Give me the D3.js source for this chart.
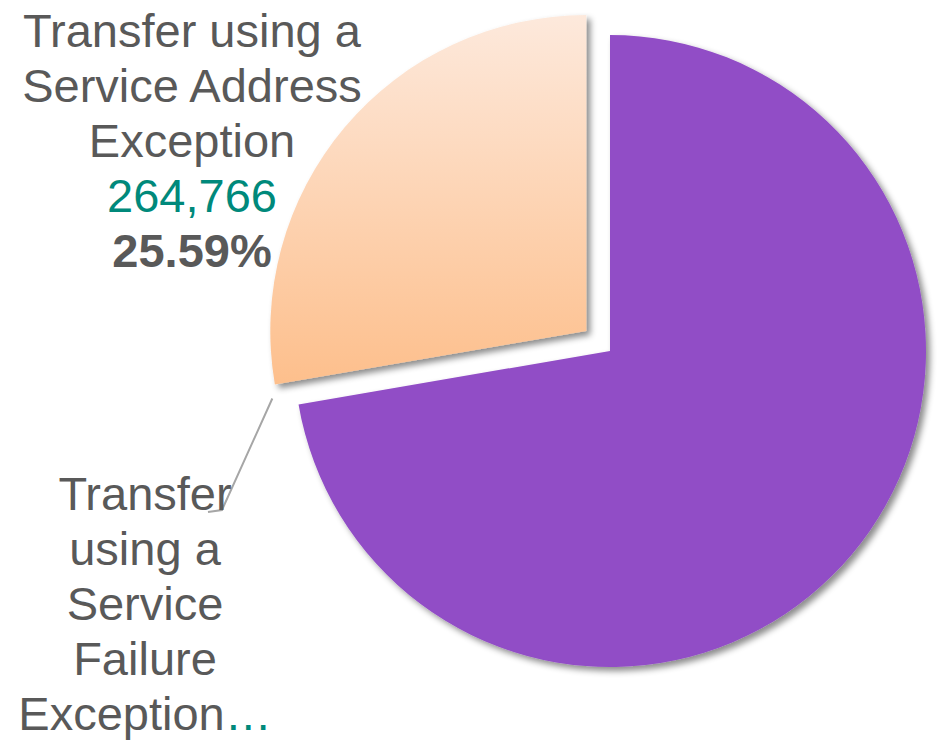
<!DOCTYPE html>
<html>
<head>
<meta charset="utf-8">
<title>Transfer exceptions pie</title>
<script src="https://d3js.org/d3.v7.min.js"></script>
<style>
    body { margin: 0; background: #fff; }
    svg { display: block; font-family: "Liberation Sans", Arial, sans-serif; }
</style>
</head>
<body>
<script>
    // slices in drawing order, clockwise from 12 o'clock
    let categories = [
        "Transfer using a Service Failure Exception",
        "Transfer using a Service Address Exception"
    ];
    let values = [691000, 264766];
    let valueLabels = ["", "264,766"];
    let pctLabels = ["", "25.59%"];
    let sliceColors = ["#914dc6", null]; // null -> orange gradient

    // label lines as they wrap in the picture
    let labelLines = [
        ["Transfer", "using a", "Service", "Failure", "Exception"],
        ["Transfer using a", "Service Address", "Exception"]
    ];

    const W = 938, H = 744;
    const cx = 610, cy = 351, R = 316, explode = 31;

    let svg = d3.select("body").append("svg").attr("width", W).attr("height", H);

    let defs = svg.append("defs");
    let grad = defs.append("linearGradient").attr("id", "orangeGrad")
        .attr("x1", 0).attr("y1", 0).attr("x2", 0).attr("y2", 1);
    grad.append("stop").attr("offset", "0%").attr("stop-color", "#fde9dc");
    grad.append("stop").attr("offset", "100%").attr("stop-color", "#fdbf8c");

    let shadow = defs.append("filter").attr("id", "shadow")
        .attr("x", "-10%").attr("y", "-10%").attr("width", "130%").attr("height", "130%");
    shadow.append("feDropShadow").attr("dx", 4).attr("dy", 4).attr("stdDeviation", 3)
        .attr("flood-color", "#000").attr("flood-opacity", 0.45);

    let pie = d3.pie().sort(null).value(d => d)(values);
    let arc = d3.arc().innerRadius(0).outerRadius(R);

    let g = svg.append("g").attr("transform", `translate(${cx},${cy})`);

    g.selectAll("path")
        .data(pie)
        .enter().append("path")
        .attr("d", arc)
        .attr("fill", (d, i) => sliceColors[i] || "url(#orangeGrad)")
        .attr("filter", "url(#shadow)")
        .attr("transform", (d, i) => {
            if (i !== 1) return null;
            let a = (d.startAngle + d.endAngle) / 2;
            return `translate(${Math.sin(a) * explode},${-Math.cos(a) * explode})`;
        });

    const fs = 47, lh = 55;
    const textCol = "#595959", teal = "#00897b";

    // label for the exploded orange slice (upper left)
    let t1 = svg.append("text").attr("text-anchor", "middle")
        .attr("font-size", fs).attr("fill", textCol);
    labelLines[1].forEach((s, i) => {
        t1.append("tspan").attr("x", 192).attr("y", 47 + i * lh).text(s);
    });
    t1.append("tspan").attr("x", 192).attr("y", 47 + 3 * lh).attr("fill", teal).text(valueLabels[1]);
    t1.append("tspan").attr("x", 192).attr("y", 47 + 4 * lh).attr("font-weight", "bold").text(pctLabels[1]);

    // leader line to the purple slice label
    let purple = pie[0];
    let ea = purple.endAngle + 0.03;
    let p0 = [cx + Math.sin(ea) * (R + 25), cy - Math.cos(ea) * (R + 25)];
    svg.append("polyline")
        .attr("points", [p0, [222, 510], [208, 512]].map(p => p.join(",")).join(" "))
        .attr("fill", "none").attr("stroke", "#a6a6a6").attr("stroke-width", 2);

    // label for purple slice (lower left), truncated
    let t0 = svg.append("text").attr("text-anchor", "middle")
        .attr("font-size", fs).attr("fill", textCol);
    labelLines[0].forEach((s, i) => {
        t0.append("tspan").attr("x", 145).attr("y", 510 + i * lh).text(s);
        if (i === labelLines[0].length - 1) {
            t0.append("tspan").attr("fill", teal).text("\u2026");
        }
    });
</script>
</body>
</html>
